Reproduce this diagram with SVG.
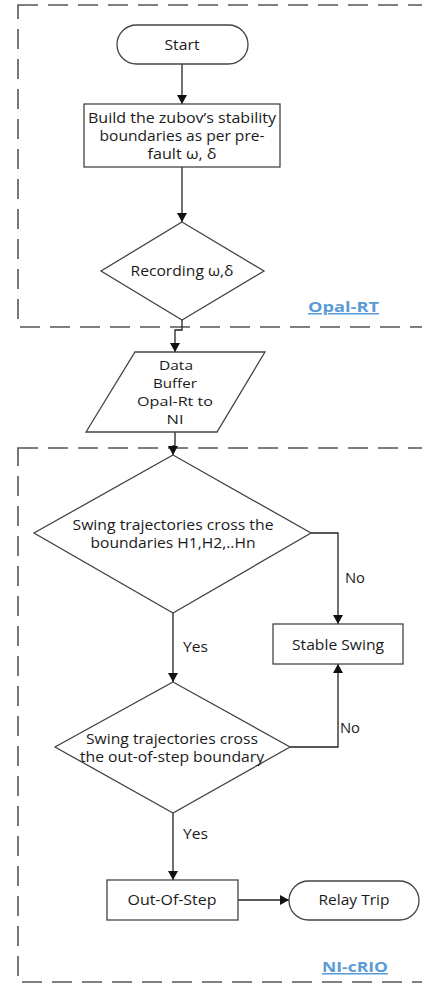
<svg xmlns="http://www.w3.org/2000/svg" width="422" height="984" viewBox="0 0 422 984">
<style>
.frame{fill:none;stroke:#555;stroke-width:1.6;stroke-dasharray:20 10}
.shape{fill:#fff;stroke:#444;stroke-width:1.3}
.conn{fill:none;stroke:#222;stroke-width:1.3}
.t{font-family:"Open Sans","Liberation Sans",sans-serif;font-size:14px;fill:#1a1a1a;text-anchor:middle}
.ts{font-size:13px}
.lbl{font-family:"Open Sans","Liberation Sans",sans-serif;font-size:14px;fill:#1a1a1a}
.region{font-family:"Open Sans","Liberation Sans",sans-serif;font-size:15px;font-weight:bold;fill:#5B9BD5;text-decoration:underline}
</style>
<defs>
<marker id="arr" markerWidth="10" markerHeight="10" refX="9" refY="5" orient="auto" markerUnits="userSpaceOnUse">
<path d="M0,0 L9,5 L0,10 Z" fill="#111"/>
</marker>
</defs>
<rect width="422" height="984" fill="#fff"/>
<g id="frames">
<rect id="opal-frame" class="frame" x="18" y="5" width="420" height="322"/>
<rect id="ni-frame" class="frame" x="18" y="448" width="420" height="534"/>
</g>
<g id="connectors">
<line class="conn" x1="182" y1="64" x2="182" y2="104" marker-end="url(#arr)"/>
<line class="conn" x1="182" y1="167" x2="182" y2="222" marker-end="url(#arr)"/>
<polyline class="conn" points="182,320 182,330 175,330 175,352" marker-end="url(#arr)"/>
<polyline class="conn" points="175,432 175,446 173,446 173,455" marker-end="url(#arr)"/>
<polyline class="conn" points="311,533 338,533 338,624" marker-end="url(#arr)"/>
<line class="conn" x1="173" y1="613" x2="173" y2="682" marker-end="url(#arr)"/>
<polyline class="conn" points="290,747 338,747 338,664" marker-end="url(#arr)"/>
<line class="conn" x1="173" y1="813" x2="173" y2="880" marker-end="url(#arr)"/>
<line class="conn" x1="238" y1="900" x2="289" y2="900" marker-end="url(#arr)"/>
<text class="lbl" x="345" y="583" textLength="20" lengthAdjust="spacingAndGlyphs">No</text>
<text class="lbl" x="183" y="652" textLength="25" lengthAdjust="spacingAndGlyphs">Yes</text>
<text class="lbl" x="340" y="733" textLength="20" lengthAdjust="spacingAndGlyphs">No</text>
<text class="lbl" x="183" y="839" textLength="25" lengthAdjust="spacingAndGlyphs">Yes</text>
</g>
<g id="start">
<rect class="shape" x="117" y="25" width="131" height="39" rx="19.5"/>
<text class="t" x="182" y="50" textLength="35" lengthAdjust="spacingAndGlyphs">Start</text>
</g>
<g id="build">
<rect class="shape" x="84" y="104" width="196" height="63"/>
<text class="t" x="182" y="123" textLength="188" lengthAdjust="spacingAndGlyphs">Build the zubov’s stability</text>
<text class="t" x="182" y="141" textLength="165" lengthAdjust="spacingAndGlyphs">boundaries as per pre-</text>
<text class="t" x="182" y="159" textLength="69" lengthAdjust="spacingAndGlyphs">fault ω, δ</text>
</g>
<g id="recording">
<polygon class="shape" points="182,222 264,271 182,320 101,271"/>
<text class="t" x="182" y="276" textLength="103" lengthAdjust="spacingAndGlyphs">Recording ω,δ</text>
</g>
<g id="opal-label">
<text class="region" x="308" y="312" textLength="71" lengthAdjust="spacingAndGlyphs">Opal-RT</text>
</g>
<g id="buffer">
<polygon class="shape" points="135,352 265,352 217,432 86,432"/>
<text class="t ts" x="176" y="370" textLength="34" lengthAdjust="spacingAndGlyphs">Data</text>
<text class="t ts" x="175" y="388" textLength="44" lengthAdjust="spacingAndGlyphs">Buffer</text>
<text class="t ts" x="175" y="406" textLength="76" lengthAdjust="spacingAndGlyphs">Opal-Rt to</text>
<text class="t ts" x="175" y="424" textLength="17" lengthAdjust="spacingAndGlyphs">NI</text>
</g>
<g id="cross-h">
<polygon class="shape" points="173,455 311,533 173,613 34,533"/>
<text class="t" x="173" y="530" textLength="201" lengthAdjust="spacingAndGlyphs">Swing trajectories cross the</text>
<text class="t" x="173" y="548" textLength="165" lengthAdjust="spacingAndGlyphs">boundaries H1,H2,..Hn</text>
</g>
<g id="stable">
<rect class="shape" x="273" y="624" width="130" height="40"/>
<text class="t" x="338" y="650" textLength="92" lengthAdjust="spacingAndGlyphs">Stable Swing</text>
</g>
<g id="cross-oos">
<polygon class="shape" points="173,682 290,747 173,813 55,747"/>
<text class="t" x="172" y="744" textLength="172" lengthAdjust="spacingAndGlyphs">Swing trajectories cross</text>
<text class="t" x="172" y="762" textLength="184" lengthAdjust="spacingAndGlyphs">the out-of-step boundary</text>
</g>
<g id="oos">
<rect class="shape" x="107" y="880" width="131" height="40"/>
<text class="t" x="172" y="905" textLength="89" lengthAdjust="spacingAndGlyphs">Out-Of-Step</text>
</g>
<g id="relay">
<rect class="shape" x="289" y="881" width="130" height="39" rx="19.5"/>
<text class="t" x="354" y="905" textLength="71" lengthAdjust="spacingAndGlyphs">Relay Trip</text>
</g>
<g id="ni-label">
<text class="region" x="322" y="972" textLength="66" lengthAdjust="spacingAndGlyphs">NI-cRIO</text>
</g>
</svg>
